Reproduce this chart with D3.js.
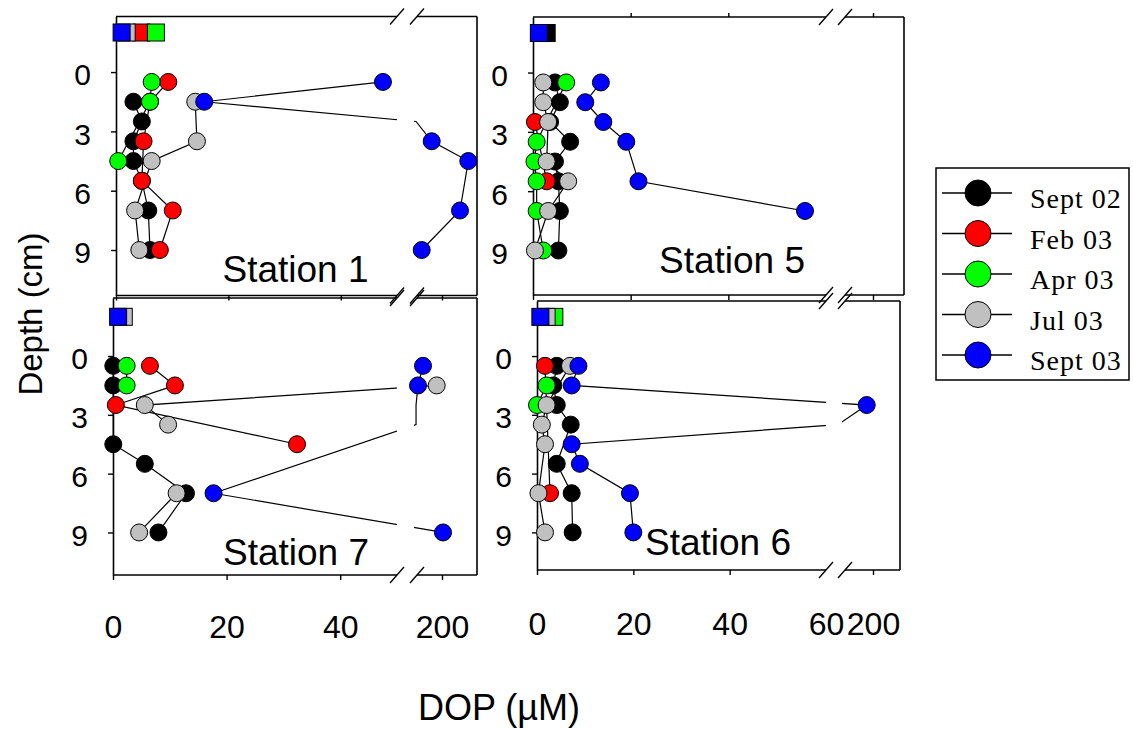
<!DOCTYPE html>
<html><head><meta charset="utf-8">
<script src="https://cdn.jsdelivr.net/npm/d3@7"></script>
<style>body{margin:0;background:#fff;} svg{display:block;}</style>
</head><body>
<svg id="chart" width="1133" height="730"></svg>
<script>
// ---------------- DATA ----------------
const depths = [0.5, 1.5, 2.5, 3.5, 4.5, 5.5, 7, 9];   // cm (slice mid-points)
const waterDepth = -2;                                // overlying water (squares)
const seriesNames = ["Sept 02", "Feb 03", "Apr 03", "Jul 03", "Sept 03"];
const seriesColors = ["#000000", "#ff0000", "#00ff00", "#c0c0c0", "#0000ff"];
const yTickValues = [0, 3, 6, 9];
const xTickValues = [0, 20, 40, 200];
const xLabelValuesLeft = [0, 20, 40, 200];
const xLabelValuesRight = [0, 20, 40, 60, 200];
// null = no sample (line continues), NaN = no sample (line broken)
// Station 1
const st1_sep02 = [null, 3.1, 4.6, 3.1, 3.1, 4.6, 5.75, 6.05];
const st1_feb03 = [9.3, 6.05, null, 4.9, null, 4.6, 10.1, 7.8];
const st1_apr03 = [6.35, 6.05, null, null, 0.4, null, null, null];
const st1_jul03 = [null, 14.1, null, 14.4, 6.35, null, 3.4, 4.15];
const st1_sep03 = [47.5, 15.7, 169, 189.7, 226.3, null, 218, 179.7];
const st1_water = [null, 4.5, 7.1, 1.9, 1.0];
// Station 5
const st5_sep02 = [4.5, 5.5, 3.5, 7.6, 4.5, 5.2, 5.5, 5.2];
const st5_feb03 = [null, null, 0.4, null, null, 2.8, null, null];
const st5_apr03 = [6.8, null, null, 0.75, 0.3, 0.75, 0.75, 2.1];
const st5_jul03 = [2.1, 2.1, 3.1, null, 2.8, 7.2, 3.1, 0.4];
const st5_sep03 = [13.9, 10.7, 14.4, 19.1, null, 21.6, 55.7, null];
const st5_water = [2.8, null, null, null, 1.2];
// Station 7
const st7_sep02 = [0.05, 0.05, null, null, 0.05, 5.6, 12.85, 8.0];
const st7_feb03 = [6.5, 10.9, 0.5, null, 32.4, null, null, null];
const st7_apr03 = [2.4, 2.4, null, null, null, null, null, null];
const st7_jul03 = [null, 194.7, 5.6, 9.7, NaN, NaN, 11.2, 4.6];
const st7_sep03 = [181, 176, 169, 169, null, null, 17.7, 201];
const st7_water = [null, null, null, 1.9, 0.9];
// Station 6
const st6_sep02 = [4.1, 3.4, 4.1, 7.0, null, 4.1, 7.2, 7.4];
const st6_feb03 = [1.66, null, null, null, null, null, 2.7, null];
const st6_apr03 = [null, 2.0, 0, null, null, null, null, null];
const st6_jul03 = [6.85, null, 2.0, 1.0, 1.66, null, 0.3, 1.66];
const st6_sep03 = [8.6, 7.2, 193.7, 130.7, 7.2, 8.9, 19.3, 20.0];
const st6_water = [null, null, 3.6, 2.0, 0.7];

// ---------------- LAYOUT ----------------
const FONT = "'Liberation Sans', Arial, sans-serif";
const panels = [
  { name: "Station 1", series: [st1_sep02, st1_feb03, st1_apr03, st1_jul03, st1_sep03], water: st1_water,
    xDomain: [0, 50, 175, 235], xRange: [116, 397, 417, 477], yDomain: [-2.81, 11.3], yRange: [16.5, 295.5],
    xLabels: null, topTicks: false, labelPos: [295.5, 282] },
  { name: "Station 5", series: [st5_sep02, st5_feb03, st5_apr03, st5_jul03, st5_sep03], water: st5_water,
    xDomain: [0, 60, 172, 231], xRange: [533, 826, 845, 904], yDomain: [-2.81, 11.25], yRange: [17, 295],
    xLabels: null, topTicks: true, labelPos: [732, 273] },
  { name: "Station 7", series: [st7_sep02, st7_feb03, st7_apr03, st7_jul03, st7_sep03], water: st7_water,
    xDomain: [0, 50, 175, 235], xRange: [113, 397, 417, 477], yDomain: [-2.96, 11.17], yRange: [298, 575],
    xLabels: xLabelValuesLeft, labelPad: 35, topTicks: false, labelPos: [296, 565] },
  { name: "Station 6", series: [st6_sep02, st6_feb03, st6_apr03, st6_jul03, st6_sep03], water: st6_water,
    xDomain: [0, 60, 172, 227], xRange: [537, 826, 845, 900], yDomain: [-2.81, 10.92], yRange: [301, 570],
    xLabels: xLabelValuesRight, labelPad: 37, topTicks: false, labelPos: [718, 555] }
];

const svg = d3.select("#chart");
svg.append("rect").attr("width", 1133).attr("height", 730).attr("fill", "#fff");

panels.forEach((p, pi) => {
  const x = d3.scaleLinear().domain(p.xDomain).range(p.xRange);
  const y = d3.scaleLinear().domain(p.yDomain).range(p.yRange);
  const [x0, xb1, xb2, x1] = p.xRange;
  const [yt, yb] = p.yRange;
  const L = p.xDomain[1], R = p.xDomain[2];
  const g = svg.append("g");

  // frame with axis break
  const fr = g.append("g").attr("stroke", "#000").attr("stroke-width", 1.6).attr("fill", "none");
  fr.append("line").attr("x1", x1).attr("x2", x1).attr("y1", yt).attr("y2", yb);
  [yt, yb].forEach(yy => {
    fr.append("line").attr("x1", x0).attr("x2", xb1).attr("y1", yy).attr("y2", yy);
    fr.append("line").attr("x1", xb2).attr("x2", x1).attr("y1", yy).attr("y2", yy);
    [xb1, xb2].forEach(xx => {
      fr.append("line").attr("stroke-width", 1.3)
        .attr("x1", xx - 7).attr("y1", yy + 8).attr("x2", xx + 7).attr("y2", yy - 8);
    });
  });

  // y axis
  const ya = g.append("g").attr("transform", `translate(${x0},0)`)
    .call(d3.axisLeft(y).tickValues(yTickValues).tickSize(5).tickSizeOuter(0).tickPadding(20));
  ya.select(".domain").attr("stroke-width", 1.6);
  ya.selectAll(".tick line").attr("stroke-width", 1.4);
  ya.selectAll("text").attr("font-family", FONT).attr("font-size", 30).attr("dy", "0.43em").attr("fill", "#000");

  // x axis (bottom)
  const xa = g.append("g").attr("transform", `translate(0,${yb})`)
    .call(d3.axisBottom(x).tickValues(xTickValues).tickSize(5).tickFormat(""));
  xa.select(".domain").remove();
  xa.selectAll(".tick line").attr("stroke-width", 1.4);
  if (p.xLabels) {
    const la = g.append("g").attr("transform", `translate(0,${yb})`)
      .call(d3.axisBottom(x).tickValues(p.xLabels).tickSize(0).tickPadding(p.labelPad + 5).tickFormat(d3.format("d")));
    la.select(".domain").remove();
    la.selectAll("text").attr("font-family", FONT).attr("font-size", 32).attr("fill", "#000");
  }
  if (p.topTicks) {
    const ta = g.append("g").attr("transform", `translate(0,${yt})`)
      .call(d3.axisTop(x).tickValues(xTickValues.filter(v => v > 0)).tickSize(4).tickFormat(""));
    ta.select(".domain").remove();
    ta.selectAll(".tick line").attr("stroke-width", 1.4);
  }

  // clip for lines: hide the break gap
  const cid = "gapclip" + pi;
  const cp = svg.append("clipPath").attr("id", cid);
  cp.append("rect").attr("x", x0 - 40).attr("y", 0).attr("width", xb1 - x0 + 40).attr("height", 730);
  cp.append("rect").attr("x", xb2 - 3).attr("y", 0).attr("width", x1 - xb2 + 43).attr("height", 730);

  const seriesPts = p.series.map(arr =>
    depths.map((d, i) => ({ d, v: arr[i] })).filter(o => o.v !== null));

  const line = d3.line().defined(o => !Number.isNaN(o.v)).x(o => x(o.v)).y(o => y(o.d));
  const lg = g.append("g").attr("clip-path", `url(#${cid})`);
  seriesPts.forEach(pts => {
    lg.append("path").attr("d", line(pts)).attr("fill", "none")
      .attr("stroke", "#000").attr("stroke-width", 1.2);
  });

  // markers
  seriesPts.forEach((pts, si) => {
    g.append("g").selectAll("circle")
      .data(pts.filter(o => !Number.isNaN(o.v) && !(o.v > L && o.v < R)))
      .join("circle")
      .attr("cx", o => x(o.v)).attr("cy", o => y(o.d)).attr("r", 8.5)
      .attr("fill", seriesColors[si]).attr("stroke", "#000").attr("stroke-width", 1);
  });

  // overlying-water squares
  const sq = 17;
  g.append("g").selectAll("rect")
    .data(p.water.map((v, si) => ({ v, si })).filter(o => o.v !== null))
    .join("rect")
    .attr("x", o => x(o.v) - sq / 2).attr("y", y(waterDepth) - sq / 2)
    .attr("width", sq).attr("height", sq)
    .attr("fill", o => seriesColors[o.si]).attr("stroke", "#000").attr("stroke-width", 1);

  g.append("text").attr("x", p.labelPos[0]).attr("y", p.labelPos[1])
    .attr("text-anchor", "middle").attr("font-family", FONT).attr("font-size", 37)
    .attr("fill", "#000").text(p.name);
});

// axis titles
svg.append("text").attr("transform", "translate(42,314) rotate(-90)")
  .attr("text-anchor", "middle").attr("font-family", FONT).attr("font-size", 33).text("Depth (cm)");
svg.append("text").attr("x", 499).attr("y", 720)
  .attr("text-anchor", "middle").attr("font-family", FONT).attr("font-size", 36).text("DOP (\u00b5M)");

// legend
const lgd = svg.append("g");
lgd.append("rect").attr("x", 936).attr("y", 168).attr("width", 193).attr("height", 212)
  .attr("fill", "#fff").attr("stroke", "#000").attr("stroke-width", 1.5);
const rowY = d3.scalePoint().domain(seriesNames).range([193, 355]);
seriesNames.forEach((n, i) => {
  const yy = rowY(n);
  lgd.append("line").attr("x1", 942).attr("x2", 1012).attr("y1", yy).attr("y2", yy)
    .attr("stroke", "#000").attr("stroke-width", 1.3);
  lgd.append("circle").attr("cx", 978).attr("cy", yy).attr("r", 13)
    .attr("fill", seriesColors[i]).attr("stroke", "#000").attr("stroke-width", 1);
  lgd.append("text").attr("x", 1030).attr("y", yy + 15)
    .attr("font-family", "'Liberation Serif', 'Times New Roman', serif").attr("font-size", 28)
    .attr("letter-spacing", 1).text(n);
});
</script>
</body></html>
